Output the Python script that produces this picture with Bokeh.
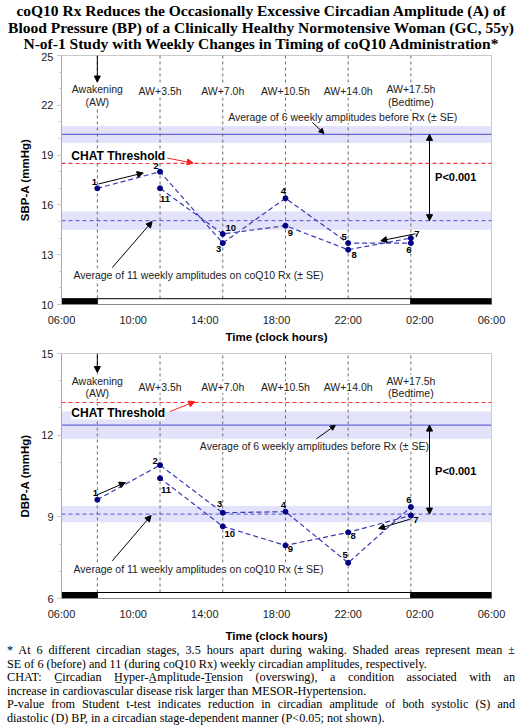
from bokeh.plotting import figure
from bokeh.models import Range1d, FixedTicker, Label, Arrow, NormalHead, Div, ColumnDataSource
from bokeh.layouts import column
from bokeh.core.properties import value
from bokeh.embed import file_html
from bokeh.resources import INLINE

# ---------------- data ----------------
stage_hours = [8.0, 11.5, 15.0, 18.5, 22.0, 25.5]          # clock hours (25.5 = 01:30 next day)
stage_labels = ["Awakening", "AW+3.5h", "AW+7.0h", "AW+10.5h", "AW+14.0h", "AW+17.5h"]
stage_sublabels = ["(AW)", "", "", "", "", "(Bedtime)"]

weeks = ["1", "2", "3", "4", "5", "6", "7", "8", "9", "10", "11"]
week_hours = [8.0, 11.5, 15.0, 18.5, 22.0, 25.5, 25.5, 22.0, 18.5, 15.0, 11.5]
sbp_amp = [17.0, 18.0, 13.7, 16.4, 13.7, 13.7, 14.0, 13.3, 14.75, 14.25, 17.0]
dbp_amp = [9.63, 10.9, 9.15, 9.19, 7.31, 9.36, 9.05, 8.43, 7.95, 8.65, 10.42]

sbp_before_mean, sbp_before_se = 20.25, 0.5
sbp_rx_mean, sbp_rx_se = 15.05, 0.55
dbp_before_mean, dbp_before_se = 12.37, 0.5
dbp_rx_mean, dbp_rx_se = 9.1, 0.3
sbp_chat = 18.5
dbp_chat = 13.2

x_ticks = [6, 10, 14, 18, 22, 26, 30]
x_tick_labels = ["06:00", "10:00", "14:00", "18:00", "22:00", "02:00", "06:00"]
sbp_ticks = [10, 13, 16, 19, 22, 25]
dbp_ticks = [6, 9, 12, 15]

# label offsets (pixels) for week numbers
sbp_lab_dx = [-3, -4, -4, -2, -4, -2, 6, 6, 5, 8, 5]
sbp_lab_dy = [-6, -6, 6, -7, -6, 7, -4, 5, 7, -6, 11]
dbp_lab_dx = [-2, -5, -3, -2, -3, -2, 5, 5, 5, 7, 6]
dbp_lab_dy = [-7, -4, -9, -7, -8, -7, 5, 4, 4, 8, 12]

title_lines = [
    "coQ10 Rx Reduces the Occasionally Excessive Circadian Amplitude (A) of",
    "Blood Pressure (BP) of a Clinically Healthy Normotensive Woman (GC, 55y)",
    "N-of-1 Study with Weekly Changes in Timing of coQ10 Administration*",
]
# footnote lines (True = justified line)
foot_lines = [
    ("* At 6 different circadian stages, 3.5 hours apart during waking. Shaded areas represent mean \u00b1", True),
    ("SE of 6 (before) and 11 (during coQ10 Rx) weekly circadian amplitudes, respectively.", False),
    ("CHAT: C\u0332ircadian H\u0332yper-A\u0332mplitude-T\u0332ension (overswing), a condition associated with an", True),
    ("increase in cardiovascular disease risk larger than MESOR-Hypertension.", False),
    ("P-value from Student t-test indicates reduction in circadian amplitude of both systolic (S) and", True),
    ("diastolic (D) BP, in a circadian stage-dependent manner (P&lt;0.05; not shown).", False),
]

SANS = "Liberation Sans"
BAND = "#e2e2fb"
LINE_BLUE = "#3a3ab4"


def panel(vals, ymin, ymax, ticks, bmean, bse, rmean, rse, chat, ylabel,
          dx, dy, bar_h, pos, height, border_top, border_bottom, border_left, border_right,
          xlab_standoff):
    p = figure(width=522, height=height, output_backend="svg", toolbar_location=None,
               x_range=Range1d(6, 30), y_range=Range1d(ymin, ymax),
               min_border_left=border_left, min_border_right=border_right,
               min_border_top=border_top, min_border_bottom=border_bottom, margin=0)
    p.xgrid.visible = False
    p.ygrid.visible = False
    p.outline_line_color = "#c8c8c8"
    p.background_fill_color = "white"
    p.border_fill_alpha = 0

    # axes
    p.xaxis.ticker = FixedTicker(ticks=x_ticks)
    p.xaxis.major_label_overrides = {t: l for t, l in zip(x_ticks, x_tick_labels)}
    p.xaxis.major_tick_line_color = None
    p.xaxis.major_tick_out = 0
    p.xaxis.major_tick_in = 0
    p.xaxis.minor_tick_line_color = None
    p.xaxis.minor_tick_out = 0
    p.xaxis.axis_line_color = "#888888"
    p.xaxis.major_label_standoff = 9
    p.xaxis.axis_label = "Time (clock hours)"
    p.xaxis.axis_label_standoff = xlab_standoff
    p.yaxis.ticker = FixedTicker(ticks=ticks, minor_ticks=list(range(ymin, ymax + 1)))
    p.yaxis.axis_line_color = "#aaaaaa"
    p.yaxis.major_tick_line_color = "#aaaaaa"
    p.yaxis.minor_tick_line_color = "#d0d0d0"
    p.yaxis.major_tick_out = 4
    p.yaxis.major_tick_in = 0
    p.yaxis.minor_tick_out = 3
    p.yaxis.minor_tick_in = 0
    p.yaxis.major_label_standoff = 4
    p.yaxis.axis_label = ylabel
    p.yaxis.axis_label_standoff = 7
    for ax in (p.xaxis, p.yaxis):
        ax.major_label_text_font = SANS
        ax.major_label_text_font_size = "11px"
        ax.major_label_text_color = "#222222"
        ax.axis_label_text_font = SANS
        ax.axis_label_text_font_size = "11.5px"
        ax.axis_label_text_font_style = "bold"
        ax.axis_label_text_color = "black"

    # shaded bands (mean +/- SE)
    p.quad(left=[6, 6], right=[30, 30], bottom=[bmean - bse, rmean - rse],
           top=[bmean + bse, rmean + rse], fill_color=BAND, line_color=None)
    p.segment(x0=[6], y0=[bmean], x1=[30], y1=[bmean], line_color="#6868d8", line_width=1.2)
    p.segment(x0=[6], y0=[rmean], x1=[30], y1=[rmean], line_color="#5050d0",
              line_width=1, line_dash="4 3")
    # CHAT threshold
    p.segment(x0=[6], y0=[chat], x1=[30], y1=[chat], line_color="#ff3030",
              line_width=1.2, line_dash="4 3")

    # vertical stage lines
    p.segment(x0=stage_hours, y0=[ymin] * len(stage_hours), x1=stage_hours,
              y1=[ymax] * len(stage_hours), line_color="#6a6a6a", line_width=1,
              line_dash="3 3")

    # series
    src = ColumnDataSource(dict(x=week_hours, y=vals, t=weeks, dx=dx, dy=dy))
    p.line("x", "y", source=src, line_color=LINE_BLUE, line_width=1.2, line_dash="5 3")
    p.scatter("x", "y", source=src, size=5, fill_color="#000080", line_color="#000080")
    p.text("x", "y", text="t", source=src, x_offset="dx", y_offset="dy",
           text_font=value(SANS), text_font_size="9.5px", text_font_style="bold",
           text_align="center", text_baseline="middle", text_color="black")

    # light / dark bar
    p.quad(left=[6, stage_hours[0], stage_hours[-1]], right=[stage_hours[0], stage_hours[-1], 30],
           bottom=[ymin] * 3, top=[ymin + bar_h] * 3,
           fill_color=["black", "white", "black"], line_color="black", line_width=1)

    def lab(x, y, text, size="10.5px", bold=False, align="center", bg=True, color="#222222"):
        p.add_layout(Label(x=x, y=y, text=text, text_font=SANS, text_font_size=size,
                           text_font_style="bold" if bold else "normal",
                           text_align=align, text_baseline="middle", text_color=color,
                           background_fill_color="white" if bg else None))

    # stage labels
    for h, l1, l2 in zip(stage_hours, stage_labels, stage_sublabels):
        if l2:
            lab(h, pos["st2a"], l1)
            lab(h, pos["st2b"], l2)
        else:
            lab(h, pos["st1"], l1)

    def arrow(x0, y0, x1, y1, color="black", both=False, size=6):
        p.add_layout(Arrow(x_start=x0, y_start=y0, x_end=x1, y_end=y1,
                           line_color=color, line_width=1,
                           end=NormalHead(size=size, fill_color=color, line_color=color),
                           start=NormalHead(size=size, fill_color=color, line_color=color) if both else None))

    # awakening arrow
    arrow(stage_hours[0], ymax, stage_hours[0], pos["aw_end"])
    # CHAT threshold label + arrow
    lab(6.55, pos["chat_y"], "CHAT Threshold", size="12px", bold=True, align="left", color="black")
    arrow(*pos["chat_arrow"], color="#ff2020")
    # before-Rx average
    lab(pos["avg6"][0], pos["avg6"][1], "Average of 6 weekly amplitudes before Rx (\u00b1 SE)", align="left")
    arrow(*pos["avg6_arrow"], size=5)
    # on-Rx average
    lab(pos["avg11"][0], pos["avg11"][1], "Average of 11 weekly amplitudes on coQ10 Rx (\u00b1 SE)", align="left")
    arrow(*pos["avg11_arrow"], size=6)
    # week direction arrows
    arrow(*pos["a12"], size=6)
    arrow(*pos["a7"], size=6)
    # P arrow
    arrow(26.54, bmean, 26.54, rmean, both=True, size=6)
    lab(26.85, pos["p_y"], "P<0.001", size="11px", bold=True, align="left", bg=False, color="black")
    return p


top = panel(sbp_amp, 10, 25, sbp_ticks, sbp_before_mean, sbp_before_se, sbp_rx_mean, sbp_rx_se,
            sbp_chat, "SBP-A (mmHg)", sbp_lab_dx, sbp_lab_dy, 0.35,
            dict(st1=22.85, st2a=23.0, st2b=22.2, aw_end=23.4, chat_y=18.94,
                 chat_arrow=(11.9, 18.82, 13.35, 18.52),
                 avg6=(15.3, 21.3), avg6_arrow=(20.0, 20.98, 20.65, 20.3),
                 avg11=(6.67, 11.8), avg11_arrow=(8.83, 12.22, 11.06, 15.0),
                 a12=(8.06, 17.26, 10.56, 17.92), a7=(25.76, 14.26, 23.82, 13.84),
                 p_y=17.68),
            height=293, border_top=3, border_bottom=40, border_left=61, border_right=28,
            xlab_standoff=2)

bottom = panel(dbp_amp, 6, 15, dbp_ticks, dbp_before_mean, dbp_before_se, dbp_rx_mean, dbp_rx_se,
               dbp_chat, "DBP-A (mmHg)", dbp_lab_dx, dbp_lab_dy, 0.22,
               dict(st1=13.77, st2a=14.0, st2b=13.56, aw_end=14.3, chat_y=12.83,
                    chat_arrow=(12.06, 12.87, 13.44, 13.23),
                    avg6=(13.72, 11.61), avg6_arrow=(20.22, 11.86, 21.28, 12.36),
                    avg11=(6.67, 7.1), avg11_arrow=(8.83, 7.38, 11.0, 9.05),
                    a12=(8.0, 9.81, 9.56, 10.26), a7=(25.44, 8.91, 23.7, 8.57),
                    p_y=10.68),
               height=299, border_top=8, border_bottom=43, border_left=58, border_right=31,
               xlab_standoff=7)

title_style = ("font-family:'Liberation Serif',serif;font-weight:bold;font-size:15.5px;"
               "line-height:16.5px;text-align:center;width:522px;white-space:nowrap;color:black;")
title = Div(text=(f'<div style="padding-top:3px;">'
                  + "".join(f'<div style="{title_style}">{t}</div>' for t in title_lines)
                  + '</div>'),
            width=522, height=52, margin=0)

foot_html = []
for txt, just in foot_lines:
    st = ("font-family:'Liberation Serif',serif;font-size:12.2px;line-height:13.6px;height:13.6px;"
          "width:508px;white-space:nowrap;color:black;margin:0;"
          + ("text-align:justify;text-align-last:justify;" if just else "text-align:left;"))
    foot_html.append(f'<div style="{st}">{txt}</div>')
footnote = Div(text='<div style="padding:0 7px;">' + "".join(foot_html) + '</div>',
               width=522, height=84, margin=0)

layout = column(title, top, bottom, footnote, spacing=0, margin=0)
open("out.html", "w").write(file_html(layout, INLINE))
